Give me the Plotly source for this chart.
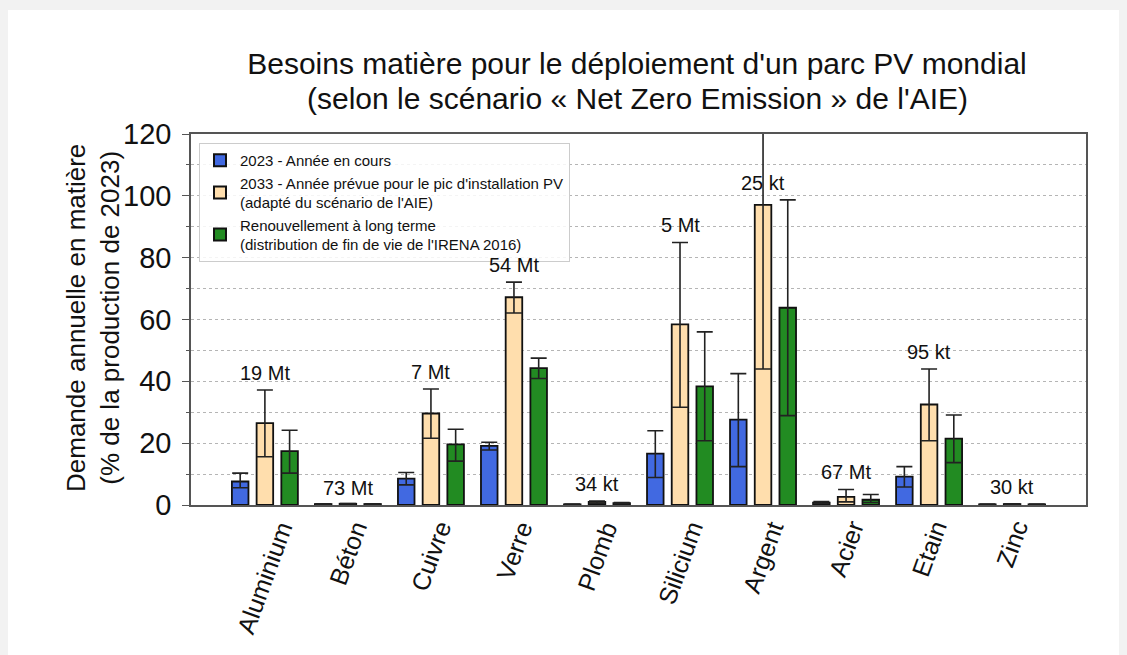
import plotly.graph_objects as go

categories = ["Aluminium", "Béton", "Cuivre", "Verre", "Plomb", "Silicium", "Argent", "Acier", "Etain", "Zinc"]

v2023 = [7.6, 0.3, 8.5, 19.1, 0.2, 16.6, 27.6, 0.8, 9.2, 0.2]
lo2023 = [5.6, 0.2, 6.5, 17.8, 0.1, 8.9, 12.4, 0.5, 5.8, 0.1]
hi2023 = [10.3, 0.4, 10.5, 20.3, 0.3, 24.0, 42.5, 1.1, 12.4, 0.3]

v2033 = [26.5, 0.4, 29.6, 67.2, 1.0, 58.4, 97.1, 2.6, 32.5, 0.3]
lo2033 = [15.6, 0.3, 21.6, 62.1, 0.6, 31.6, 44.0, 1.0, 20.8, 0.2]
hi2033 = [37.2, 0.5, 37.5, 72.1, 1.3, 84.9, 150.0, 5.0, 44.0, 0.4]

vLT = [17.4, 0.3, 19.6, 44.3, 0.6, 38.4, 63.8, 1.7, 21.5, 0.2]
loLT = [10.3, 0.2, 14.2, 40.9, 0.4, 20.8, 28.9, 0.8, 13.7, 0.1]
hiLT = [24.2, 0.4, 24.5, 47.5, 0.8, 56.0, 98.7, 3.4, 29.1, 0.3]

mass_labels = ["19 Mt", "73 Mt", "7 Mt", "54 Mt", "34 kt", "5 Mt", "25 kt", "67 Mt", "95 kt", "30 kt"]
mass_label_y = [42.6, 5.5, 42.9, 77.5, 6.7, 90.5, 104.3, 10.8, 49.6, 5.8]

series = [
    ("2023 - Année en cours", v2023, lo2023, hi2023, "#4169E1"),
    ("2033 - Année prévue pour le pic d'installation PV<br>(adapté du scénario de l'AIE)", v2033, lo2033, hi2033, "#FFDEAD"),
    ("Renouvellement à long terme<br>(distribution de fin de vie de l'IRENA 2016)", vLT, loLT, hiLT, "#228B22"),
]

FONT = "Liberation Sans, Arial, Helvetica, sans-serif"
INK = "#111111"

fig = go.Figure()
for name, vals, lo, hi, col in series:
    fig.add_trace(go.Bar(
        name=name, x=categories, y=vals,
        marker=dict(color=col, line=dict(color=INK, width=1.8)),
        error_y=dict(type="data", symmetric=False,
                     array=[h - v for h, v in zip(hi, vals)],
                     arrayminus=[v - l for v, l in zip(vals, lo)],
                     color="#222222", thickness=1.6, width=8),
    ))

for c, t, yv in zip(categories, mass_labels, mass_label_y):
    fig.add_annotation(x=c, y=yv, text=t, showarrow=False, xref="x", yref="y",
                       font=dict(size=20, color=INK, family=FONT),
                       yanchor="middle", xanchor="center")

# page offset of the figure inside the html body (default body margin)
OFF = 8
W, H = 1127, 655
# desired plot area in page pixels: x 191..1086, y 134..505
ml, mt = 191 - OFF, 134 - OFF
mr = W - (1086 - OFF)
mb = H - (505 - OFF)
pw, ph = W - ml - mr, H - mt - mb


def px_to_paper_x(page_x):
    return (page_x - OFF - ml) / pw


def px_to_paper_y(page_y):
    return (H - mb - (page_y - OFF)) / ph


# white card over a light grey page
fig.add_shape(type="rect", xref="paper", yref="paper",
              x0=px_to_paper_x(-20), x1=px_to_paper_x(W + 40),
              y0=px_to_paper_y(H + 40), y1=px_to_paper_y(10),
              fillcolor="white", line=dict(width=0), layer="below")

# second title line
fig.add_annotation(text="(selon le scénario « Net Zero Emission » de l'AIE)",
                   xref="paper", yref="paper", x=px_to_paper_x(637), y=px_to_paper_y(98),
                   xanchor="center", yanchor="middle", showarrow=False,
                   font=dict(size=30, family=FONT, color=INK))

# y axis title (two lines, rotated)
fig.add_annotation(text="Demande annuelle en matière<br>(% de la production de 2023)",
                   xref="paper", yref="paper", x=px_to_paper_x(93), y=px_to_paper_y(318),
                   xanchor="center", yanchor="middle", textangle=-90, showarrow=False,
                   font=dict(size=26, family=FONT, color=INK))

# category labels, rotated and centred under each group
for c in categories:
    fig.add_annotation(text=c, x=c, xref="x", yref="paper", y=px_to_paper_y(515),
                       xanchor="center", yanchor="top", textangle=-70, showarrow=False,
                       font=dict(size=25, family=FONT, color=INK))

fig.update_layout(
    width=W, height=H,
    margin=dict(l=ml, r=mr, t=mt, b=mb),
    paper_bgcolor="#f2f2f2", plot_bgcolor="white",
    font=dict(family=FONT, color=INK),
    barmode="group", bargap=0.107, bargroupgap=0.33,
    title=dict(text="Besoins matière pour le déploiement d'un parc PV mondial",
               x=(637 - OFF) / W, xanchor="center", xref="container",
               y=1 - (63 - OFF) / H, yanchor="middle", yref="container",
               font=dict(size=30, family=FONT, color=INK)),
    legend=dict(x=px_to_paper_x(199), y=px_to_paper_y(143), xanchor="left", yanchor="top",
                bgcolor="rgba(255,255,255,0.85)", bordercolor="#cccccc", borderwidth=1,
                font=dict(size=15, family=FONT, color=INK),
                tracegroupgap=2, itemsizing="constant"),
    showlegend=True,
)

fig.update_xaxes(
    range=[-0.89, 9.89], showticklabels=False,
    showline=True, linecolor="#555555", linewidth=1.5, mirror=True,
    ticks="", showgrid=False,
)
fig.update_yaxes(
    range=[0, 120], dtick=20, tick0=0,
    tickfont=dict(size=29, family=FONT, color=INK),
    ticklabelstandoff=5,
    showline=True, linecolor="#555555", linewidth=1.5, mirror=True,
    ticks="outside", ticklen=7, tickcolor="#555555",
    showgrid=True, gridcolor="#b5b5b5", griddash="dot", gridwidth=1,
    minor=dict(dtick=10, showgrid=True, gridcolor="#b5b5b5", griddash="dot",
               ticks="outside", ticklen=3, tickcolor="#555555"),
    zeroline=False,
)

fig.write_html("out.html", post_script="document.body.style.backgroundColor='#f2f2f2';")
